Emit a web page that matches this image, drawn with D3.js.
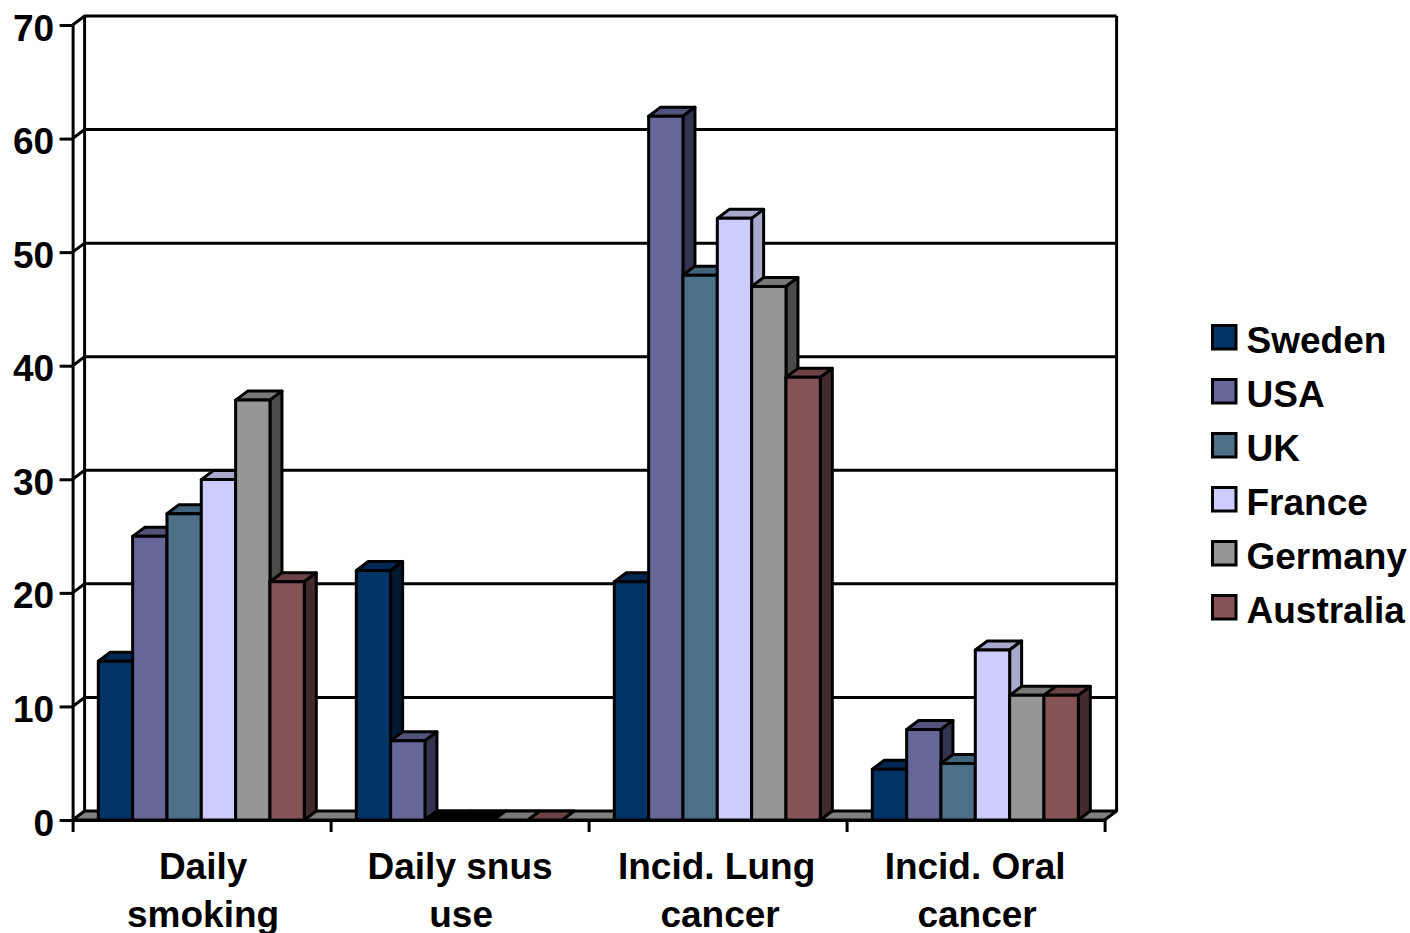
<!DOCTYPE html>
<html>
<head>
<meta charset="utf-8">
<script src="https://cdn.jsdelivr.net/npm/d3@7/dist/d3.min.js"></script>
<style>
html,body{margin:0;padding:0;background:#fff;overflow:hidden}
svg{display:block}
text{font-family:"Liberation Sans",Arial,sans-serif;font-weight:700;fill:#000}
</style>
</head>
<body>
<script>
const categories = [["Daily","smoking"],["Daily snus","use"],["Incid. Lung","cancer"],["Incid. Oral","cancer"]];
const seriesNames = ["Sweden","USA","UK","France","Germany","Australia"];
const sweden = [14,22,21,4.5];
const usa = [25,7,62,8];
const uk = [27,0,48,5];
const france = [30,0,53,15];
const germany = [37,0,47,11];
const australia = [21,0,39,11];
const yTicks = [0,10,20,30,40,50,60,70];
const frontColors = ["#003366","#666699","#4d7089","#ccccff","#969696","#865457"];
const topColors = ["#002855","#52527a","#41637c","#a8a8cc","#787878","#6b4346"];
const sideColors = ["#001a33","#333350","#26384a","#a8a8cc","#4b4b4b","#432a2c"];
const blackWhenZero = ["UK","France"];

const seriesValues = [sweden,usa,uk,france,germany,australia];
const W = 1410, H = 933;
const depthX = 12, depthY = 9, stroke = 3, fontSize = 37;
const svg = d3.select("body").append("svg").attr("width",W).attr("height",H);

const y = d3.scaleLinear().domain([0,70]).range([820,25]);
const x0 = d3.scaleBand().domain(d3.range(categories.length)).range([72.6,1104.6]);
const x1 = d3.scaleBand().domain(seriesNames).range([25.7,x0.bandwidth()-26.3]);
const poly = pts => pts.map(p=>p.join(",")).join(" ");
const left = x0.range()[0], right = x0.range()[1];

// walls: gridlines with their diagonal on the side wall
const grid = svg.append("g").attr("stroke","#000").attr("stroke-width",stroke).attr("fill","none");
yTicks.forEach(t=>{
  if(t===0) return;
  grid.append("polyline").attr("points",poly([[left,y(t)],[left+depthX,y(t)-depthY],[right+depthX,y(t)-depthY]]));
});
grid.append("line").attr("x1",left+depthX).attr("x2",left+depthX).attr("y1",y(70)-depthY).attr("y2",y(0)-depthY);
grid.append("line").attr("x1",right+depthX).attr("x2",right+depthX).attr("y1",y(70)-depthY).attr("y2",y(0)-depthY);
// floor
svg.append("polygon")
  .attr("points",poly([[left,y(0)],[left+depthX,y(0)-depthY],[right+depthX,y(0)-depthY],[right,y(0)]]))
  .attr("fill","#808080").attr("stroke","#000").attr("stroke-width",stroke).attr("stroke-linejoin","round");

// bars
const bars = svg.append("g").attr("stroke","#000").attr("stroke-width",stroke).attr("stroke-linejoin","round");
categories.forEach((c,ci)=>{
  seriesNames.forEach((name,si)=>{
    const v = seriesValues[si][ci];
    const l = x0(ci)+x1(name), r = l+x1.bandwidth(), b = y(0), t = v>0 ? y(v)+0.3 : b;
    const isBlack = v===0 && blackWhenZero.includes(name);
    bars.append("polygon").attr("points",poly([[l,t],[l+depthX,t-depthY],[r+depthX,t-depthY],[r,t]]))
      .attr("fill",isBlack?"#000":topColors[si]);
    if(v>0){
      bars.append("polygon").attr("points",poly([[r,t],[r+depthX,t-depthY],[r+depthX,b-depthY],[r,b]]))
        .attr("fill",sideColors[si]);
      bars.append("rect").attr("x",l).attr("y",t).attr("width",r-l).attr("height",b-t)
        .attr("fill",frontColors[si]);
    }
  });
});

// y axis
const yAxis = d3.axisLeft(y).tickValues(yTicks).tickSize(13).tickPadding(6).tickSizeOuter(0);
const gy = svg.append("g").attr("transform",`translate(${left},0)`).call(yAxis);
gy.selectAll("path,line").attr("stroke","#000").attr("stroke-width",stroke);
gy.selectAll("text").attr("font-size",fontSize).attr("dy",null).attr("y",15).attr("x",-18.5).attr("text-anchor","end");

// x axis
const xTickScale = d3.scaleLinear().domain([0,categories.length]).range([left,right]);
const gx = svg.append("g").attr("transform",`translate(0,${y(0)})`)
  .call(d3.axisBottom(xTickScale).tickValues(d3.range(categories.length+1)).tickSize(12).tickSizeOuter(0).tickFormat(""));
gx.selectAll("path,line").attr("stroke","#000").attr("stroke-width",stroke);

const labelNudge = [[1.5,1.5],[0.5,1.5],[-1,2.5],[-0.5,1.5]];
categories.forEach((lines,ci)=>{
  const cx = x0(ci)+x0.bandwidth()/2;
  lines.forEach((s,li)=>{
    svg.append("text").attr("x",cx+labelNudge[ci][li]).attr("y",879+li*48).attr("text-anchor","middle").attr("font-size",fontSize).text(s);
  });
});

// legend
const legend = svg.append("g");
const rowY = d3.scalePoint().domain(seriesNames).range([325,595]);
seriesNames.forEach((name,si)=>{
  legend.append("rect").attr("x",1212.5).attr("y",rowY(name)+.5).attr("width",23.5).attr("height",23.5)
    .attr("fill",frontColors[si]).attr("stroke","#000").attr("stroke-width",stroke);
  legend.append("text").attr("x",1246.5).attr("y",rowY(name)+28).attr("font-size",fontSize).text(name);
});
</script>
</body>
</html>
